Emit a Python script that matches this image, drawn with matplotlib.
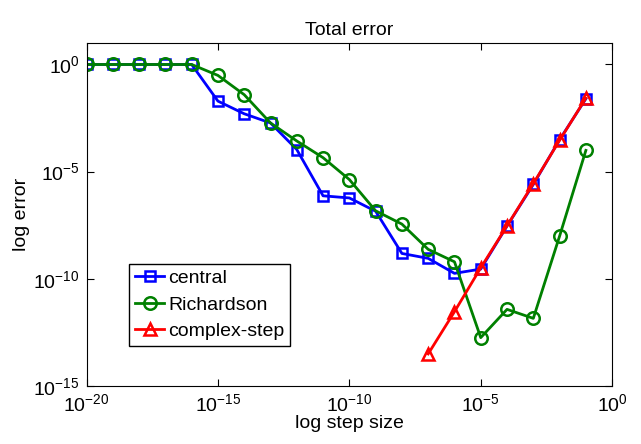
import numpy as np
import matplotlib
matplotlib.use('Agg')
import matplotlib.pyplot as plt

plt.rcParams['font.family'] = ['Liberation Sans', 'DejaVu Sans']
plt.rcParams['mathtext.fontset'] = 'custom'
plt.rcParams['mathtext.rm'] = 'Liberation Sans'
plt.rcParams['mathtext.it'] = 'Liberation Sans'

# step sizes 1e-20 ... 1e-1
log_h = np.arange(-20, 0)
h = 10.0 ** log_h

# log10 of the errors
log_central = [0, 0, 0, 0, 0, -1.71, -2.30, -2.73, -3.97, -6.13,
               -6.23, -6.85, -8.82, -9.05, -9.75, -9.55, -7.54, -5.60, -3.51, -1.60]
log_richardson = [0, 0, 0, 0, 0, -0.51, -1.41, -2.73, -3.57, -4.35,
                  -5.37, -6.83, -7.45, -8.63, -9.21, -12.75, -11.43, -11.85, -8.01, -4.01]
h_complex = 10.0 ** np.arange(-7, 0)
log_complex = [-13.51, -11.54, -9.49, -7.53, -5.56, -3.54, -1.57]

fig = plt.figure(figsize=(6.41, 4.44), dpi=100)
ax = fig.add_axes([0.135, 0.131, 0.82, 0.772])

ax.loglog(h, 10.0 ** np.array(log_central), '-s', color='b', lw=2, ms=7.5,
          mfc='none', mew=1.8, label='central')
ax.loglog(h, 10.0 ** np.array(log_richardson), '-o', color=(0, 0.5, 0), lw=2, ms=9,
          mfc='none', mew=1.8, label='Richardson')
ax.loglog(h_complex, 10.0 ** np.array(log_complex), '-^', color='r', lw=2, ms=9,
          mfc='none', mew=1.8, label='complex-step')

ax.set_xlim(1e-20, 1e0)
ax.set_ylim(1e-15, 1e1)
ax.set_xticks([1e-20, 1e-15, 1e-10, 1e-5, 1e0])
ax.set_yticks([1e-15, 1e-10, 1e-5, 1e0])
ax.minorticks_off()
ax.tick_params(direction='in', top=True, right=True, labelsize=14, length=5, pad=5)

ax.set_title('Total error', fontsize=14)
ax.set_xlabel('log step size', fontsize=14, labelpad=0)
ax.set_ylabel('log error', fontsize=14, labelpad=2)

leg = ax.legend(loc='lower left', bbox_to_anchor=(0.081, 0.117), borderaxespad=0,
                fontsize=14, fancybox=False, edgecolor='k', framealpha=1,
                handlelength=1.5, handletextpad=0.2, borderpad=0.3, labelspacing=0.45)
leg.get_frame().set_linewidth(1)

fig.savefig('out.png', dpi=100)
